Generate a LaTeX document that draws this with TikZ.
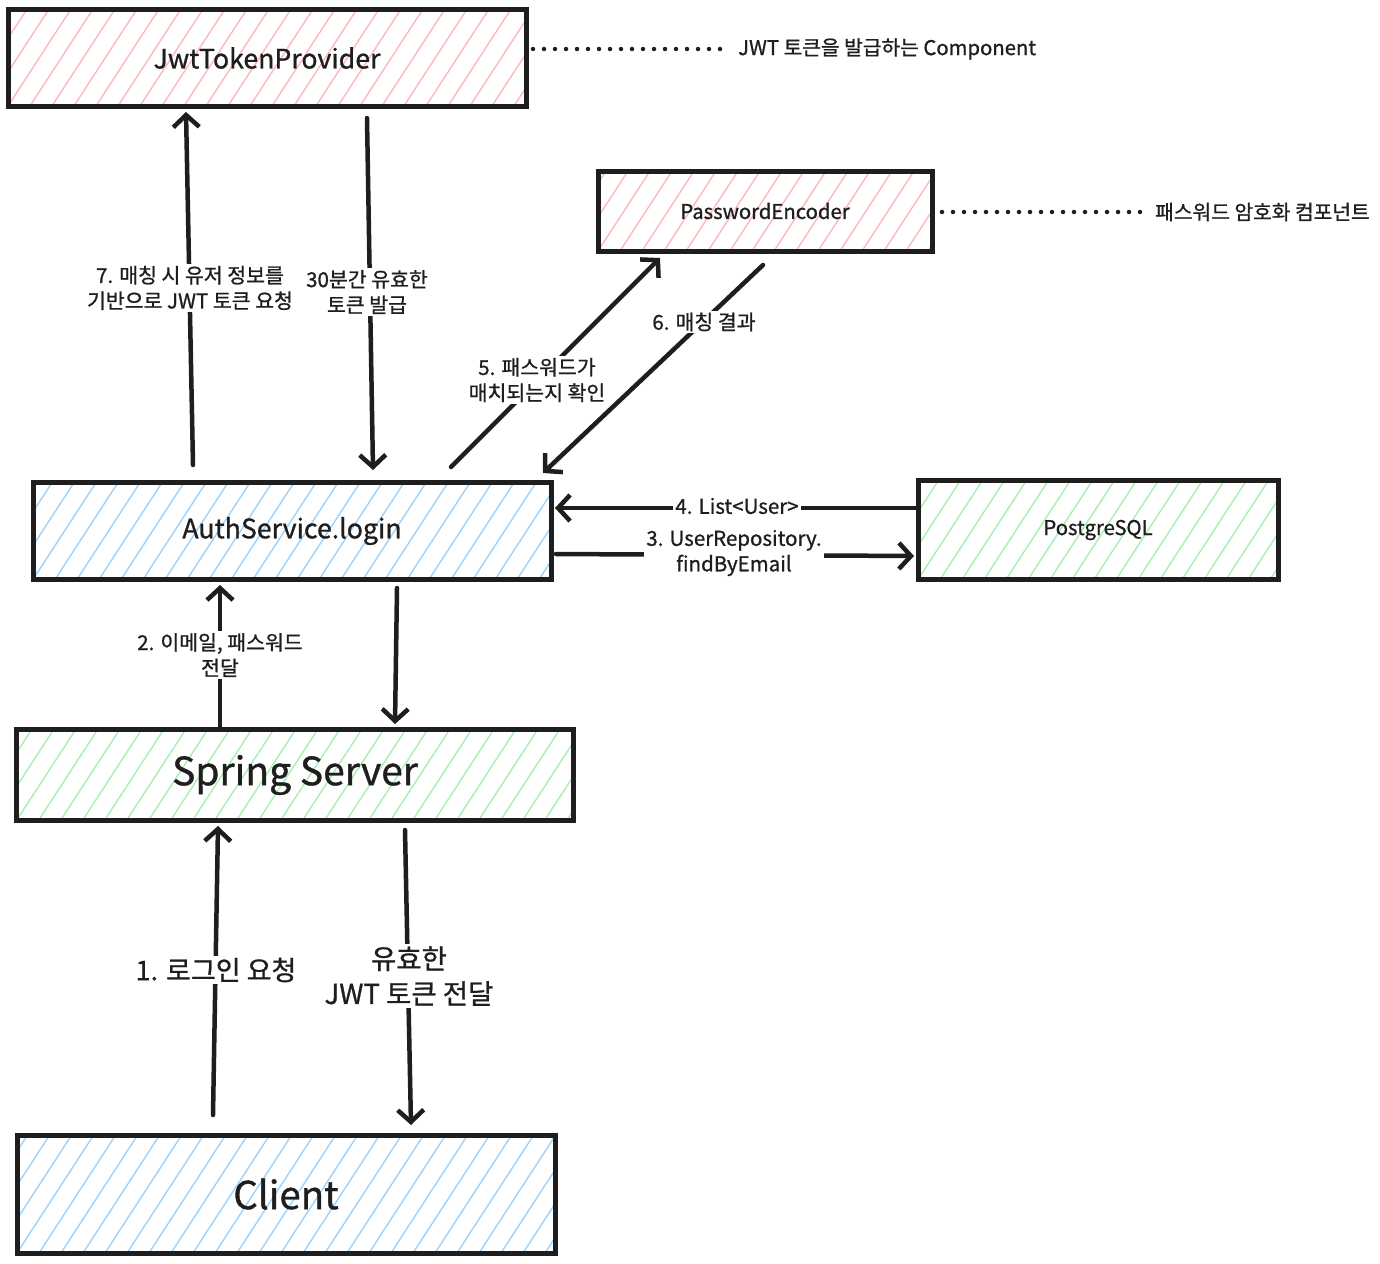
\documentclass[tikz,border=0pt]{standalone}
\usepackage{fontspec}
\setmainfont{Noto Sans CJK KR}[FakeBold=0.9]
\usetikzlibrary{arrows.meta}
\definecolor{ink}{HTML}{1E1E1E}
\definecolor{hpink}{HTML}{FFB8B8}
\definecolor{hblue}{HTML}{9DD2FA}
\definecolor{hgreen}{HTML}{A8EFB2}
\tikzset{
  hatchbox/.style={draw=ink, line width=5pt, inner sep=0pt, text=ink,
    path picture={\foreach \k in {0,...,32}{\draw[#1, line width=1.4pt] ([xshift=\k*22pt-88pt]path picture bounding box.south west) -- ++(130pt,200pt);}}},
  conn/.style={draw=ink, line width=4.5pt, line cap=round, -{Straight Barb[length=12pt,width=26pt,line width=4.5pt]}},
  dots/.style={draw=ink, line width=4.5pt, line cap=round, dash pattern=on 0pt off 11pt},
  lbl/.style={fill=white, inner sep=2pt, text=ink, align=center, font=\fontsize{20.5}{25.5}\selectfont},
  note/.style={inner sep=0pt, text=ink, font=\fontsize{20.3}{24}\selectfont}
}
\begin{document}
\begin{tikzpicture}[x=1pt,y=-1pt]
\useasboundingbox[fill=white] (0,0) rectangle (1380,1263);
% boxes
\node[hatchbox=hpink, minimum width=518pt, minimum height=96pt, font=\fontsize{26.7}{30}\selectfont] (jwt) at (267,58) {JwtTokenProvider};
\node[hatchbox=hpink, minimum width=334pt, minimum height=80pt, font=\fontsize{20.3}{24}\selectfont] (pe) at (765,211) {PasswordEncoder};
\node[hatchbox=hblue, minimum width=518pt, minimum height=97pt, font=\fontsize{26.7}{30}\selectfont] (auth) at (292,531) {AuthService.login};
\node[hatchbox=hgreen, minimum width=360pt, minimum height=99pt, font=\fontsize{20.3}{24}\selectfont] (pg) at (1098,530) {PostgreSQL};
\node[hatchbox=hgreen, minimum width=557pt, minimum height=91pt, font=\fontsize{39}{44}\selectfont] (spring) at (295,775) {Spring Server};
\node[hatchbox=hblue, minimum width=538pt, minimum height=118pt, font=\fontsize{38.5}{44}\selectfont] (client) at (286,1194) {Client};
% notes
\node[note, anchor=west] (n1) at (738,49) {JWT 토큰을 발급하는 Component};
\node[note, anchor=west] (n2) at (1155,212) {패스워드 암호화 컴포넌트};
\coordinate (d1) at (533,49);
\coordinate (d2) at (942,212);
\draw[dots] (d1) -- ([xshift=-8pt]n1.west);
\draw[dots] (d2) -- ([xshift=-14pt]n2.west);
% connector endpoints
\coordinate (a7s) at (193,465); \coordinate (a7e) at (186,112);
\coordinate (a30s) at (367,118); \coordinate (a30e) at (373,470);
\coordinate (a5s) at (451,467); \coordinate (a5e) at (660,258);
\coordinate (a6s) at (763,265); \coordinate (a6e) at (543,473);
\coordinate (a4s) at (918,508); \coordinate (a4e) at (555,508);
\coordinate (a3s) at (556,554); \coordinate (a3e) at (914,556);
\coordinate (a2s) at (220,728); \coordinate (a2e) at (220,585);
\coordinate (ads) at (397,588); \coordinate (ade) at (395,724);
\coordinate (a1s) at (213,1115); \coordinate (a1e) at (218,826);
\coordinate (ajs) at (405,830); \coordinate (aje) at (411,1125);
\draw[conn] (a7s) -- (a7e);
\draw[conn] (a30s) -- (a30e);
\draw[conn] (a5s) -- (a5e);
\draw[conn] (a6s) -- (a6e);
\draw[conn] (a4s) -- (a4e);
\draw[conn] (a3s) -- (a3e);
\draw[conn] (a2s) -- (a2e);
\draw[conn] (ads) -- (ade);
\draw[conn] (a1s) -- (a1e);
\draw[conn] (ajs) -- (aje);
% labels
\node[lbl] (l7) at (190,288) {7. 매칭 시 유저 정보를\\기반으로 JWT 토큰 요청};
\node[lbl] (l30) at (367,292) {30분간 유효한\\토큰 발급};
\node[lbl] (l5) at (537,380) {5. 패스워드가\\매치되는지 확인};
\node[lbl] (l6) at (704,322) {6. 매칭 결과};
\node[lbl] (l4) at (737,506) {4. List<User>};
\node[lbl] (l3) at (734,553) {3. UserRepository.\\findByEmail};
\node[lbl] (l2) at (220,655) {2. 이메일, 패스워드\\전달};
\node[lbl, font=\fontsize{27}{33}\selectfont] (l1) at (216,970) {1. 로그인 요청};
\node[lbl, font=\fontsize{27.5}{35}\selectfont] (lj) at (409,976) {유효한\\JWT 토큰 전달};
\end{tikzpicture}
\end{document}
